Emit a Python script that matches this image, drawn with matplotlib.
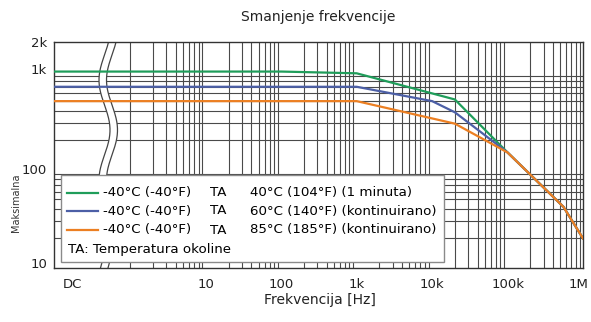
import numpy as np
import matplotlib
matplotlib.use("Agg")
from matplotlib import pyplot as plt
from matplotlib.patches import Polygon, Rectangle
from matplotlib.lines import Line2D
from matplotlib.transforms import ScaledTranslation

plt.rcParams['font.family'] = ['DejaVu Sans']

# DC is shown at the left edge of the log axis
dc = 0.09

# maximum frequency vs. frequency
freq_green = [dc, 100, 1000, 20000, 100000, 550000, 1e6]
val_green = [1000, 1000, 960, 520, 150, 42, 20]
freq_blue = [dc, 1000, 10000, 20000, 100000, 550000, 1e6]
val_blue = [700, 700, 500, 385, 150, 42, 20]
freq_orange = [dc, 1000, 20000, 100000, 550000, 1e6]
val_orange = [500, 500, 295, 150, 42, 20]

legend_rows = [
    ("-40°C (-40°F)", "TA", "40°C (104°F) (1 minuta)"),
    ("-40°C (-40°F)", "TA", "60°C (140°F) (kontinuirano)"),
    ("-40°C (-40°F)", "TA", "85°C (185°F) (kontinuirano)"),
]
legend_note = "TA: Temperatura okoline"
colors = ["#1f9d5a", "#4c5fa6", "#ec7f22"]

xtick_pos = [0.168, 10, 100, 1e3, 1e4, 1e5, 1e6]
xtick_lab = ["DC", "10", "100", "1k", "10k", "100k", "1M"]
ytick_pos = [10, 100, 1000, 2000]
ytick_lab = ["10", "100", "1k", "2k"]

fig = plt.figure(figsize=(5.91, 3.22), dpi=100)
ax = fig.add_axes([54 / 591, 1 - 268 / 322, 529 / 591, 226 / 322])
ax.set_xscale('log')
ax.set_yscale('log')
ax.set_xlim(10 ** -1.013, 1e6)
ax.set_ylim(10, 2000)

# grid only from 1 Hz upward (left part is the broken "DC" region)
xminor = [k * 10 ** d for d in range(0, 6) for k in range(1, 10)] + [1e6]
yminor = [k * 10 ** d for d in range(1, 4) for k in range(1, 10)]
yminor = [v for v in yminor if v <= 2000]
ax.set_xticks(xminor, minor=True)
ax.set_yticks(yminor, minor=True)
ax.set_xticks(xtick_pos)
ax.set_xticklabels(xtick_lab)
ax.set_yticks(ytick_pos)
ax.set_yticklabels(ytick_lab)
ax.set_xticklabels([], minor=True)
ax.set_yticklabels([], minor=True)
ax.tick_params(which='both', length=0, labelsize=9.5, colors='#222222')
ax.tick_params(axis='x', pad=7)
ax.tick_params(axis='y', pad=5)
ax.grid(False, which='major')
ax.grid(True, which='minor', color='#4a4a4a', linewidth=0.8)
ax.set_axisbelow(True)
for s in ax.spines.values():
    s.set_color('#333333')
    s.set_linewidth(1.0)

# small nudges of tick labels like in the source picture
lab = ax.get_xticklabels()[-1]
lab.set_transform(lab.get_transform() + ScaledTranslation(-4 / 100, 0, fig.dpi_scale_trans))
for lab, up in zip(ax.get_yticklabels(), [5, 1, 3, 0]):
    lab.set_transform(lab.get_transform() + ScaledTranslation(0, up / 100, fig.dpi_scale_trans))

# axis break (wavy white band)
W, H = 529.0, 226.0
ypx = np.linspace(0, H, 200)
yabs = 268 - ypx
xl = 104.5 - 5.5 * np.cos(2 * np.pi * (yabs - 80) / 100)
xr = xl + 7.5
xl_f = (xl - 54) / W
xr_f = (xr - 54) / W
yf = ypx / H
band = np.concatenate([np.column_stack([xl_f, yf]), np.column_stack([xr_f, yf])[::-1]])
ax.add_patch(Polygon(band, closed=True, facecolor='white', edgecolor='none',
                     transform=ax.transAxes, zorder=1.5))
ax.plot(xl_f, yf, color='#444444', lw=0.9, transform=ax.transAxes, zorder=1.6)
ax.plot(xr_f, yf, color='#444444', lw=0.9, transform=ax.transAxes, zorder=1.6)

ax.plot(freq_green, val_green, color=colors[0], lw=1.6, zorder=3)
ax.plot(freq_blue, val_blue, color=colors[1], lw=1.6, zorder=3)
ax.plot(freq_orange, val_orange, color=colors[2], lw=1.6, zorder=3)

# legend box drawn by hand
ax.add_patch(Rectangle((7 / W, 6.3 / H), (444 - 61) / W, (261.7 - 175) / H,
                       transform=ax.transAxes, facecolor='white',
                       edgecolor='#8a8a8a', lw=1.0, zorder=5))
row_y = [(268 - y) / H for y in (192.7, 211, 230)]
for (c1, c2, c3), col, yy in zip(legend_rows, colors, row_y):
    ax.add_line(Line2D([13 / W, 44 / W], [yy, yy], color=col, lw=1.6,
                       transform=ax.transAxes, zorder=6))
    ax.text(49 / W, yy, c1, transform=ax.transAxes, va='center', fontsize=9.6, zorder=6)
    ax.text(156 / W, yy, c2, transform=ax.transAxes, va='center', fontsize=9.6, zorder=6)
    ax.text(196 / W, yy, c3, transform=ax.transAxes, va='center', fontsize=9.6, zorder=6)
ax.text(14 / W, (268 - 249) / H, legend_note, transform=ax.transAxes, va='center',
        fontsize=9.6, zorder=6)

fig.text(318 / 591, 1 - 17 / 322, "Smanjenje frekvencije", ha='center', va='center',
         fontsize=10, color='#222222')
fig.text(320 / 591, 1 - 300 / 322, "Frekvencija [Hz]", ha='center', va='center',
         fontsize=10, color='#222222')
# squeezed y label as it appears in the source
fig.text(16 / 591, 1 - 232 / 322, "Maksimalna", rotation=90, ha='center', va='bottom',
         fontsize=7, color='#333333')

fig.savefig("out.png", dpi=100)
